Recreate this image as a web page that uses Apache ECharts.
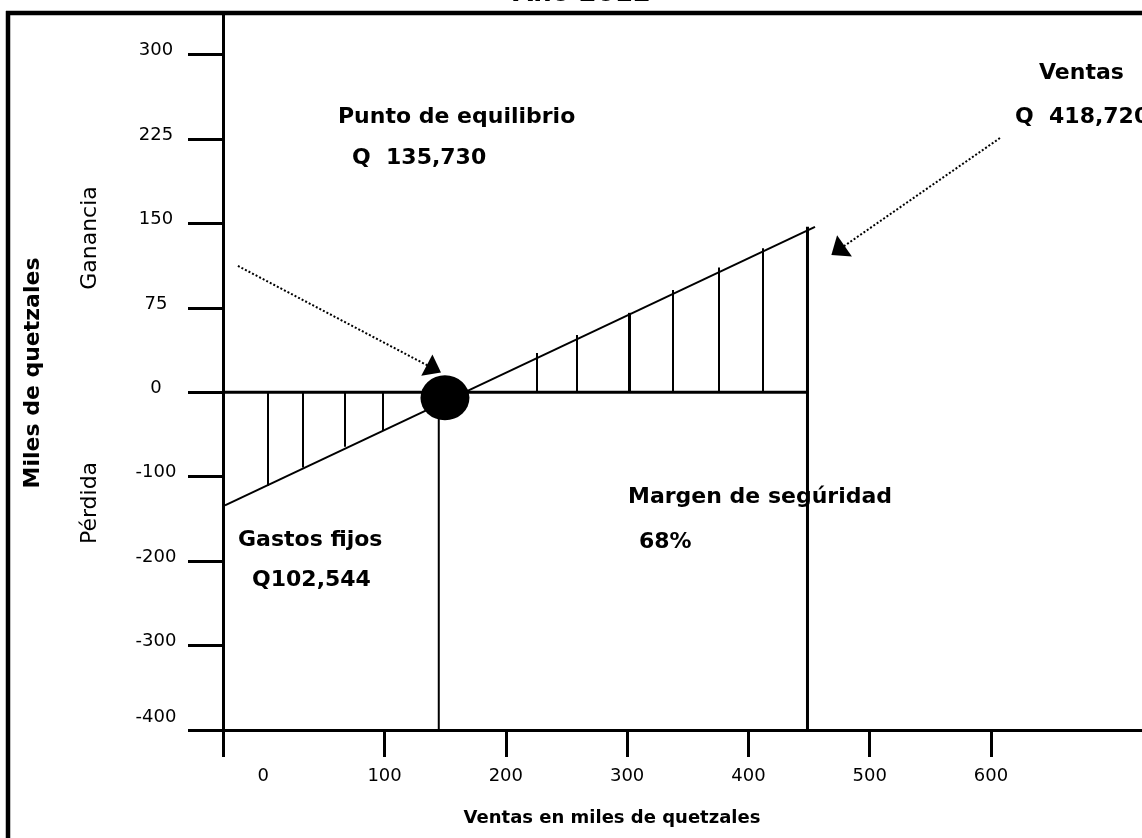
<!DOCTYPE html>
<html>
<head>
<meta charset="utf-8">
<script src="https://cdn.jsdelivr.net/npm/echarts@6/dist/echarts.min.js"></script>
<style>
  html, body { margin: 0; padding: 0; background: #ffffff; }
  #chart { width: 1142px; height: 838px; }
</style>
</head>
<body>
<div id="chart"></div>
<script>
// ---------- data (thousands of quetzales) ----------
const xTickLabels = [0, 100, 200, 300, 400, 500, 600];
const yTickLabels = [-400, -300, -200, -100, 0, 75, 150, 225, 300];
const xRange = [-33.2, 724.5];
const yTopValue = 337;

// result line (sales -> profit/loss)
const resultLineX = [-31.6, 454.9];
const resultLineY = [-134, 147];

// hatching in the loss zone
const lossHatchX = [3.6, 32.5, 67.4, 98.4];
const lossHatchY = [-111, -89, -64.5, -45.6];
// hatching in the profit zone
const profitHatchX = [225.4, 258.6, 301.8, 337.8, 375.7, 412.0];
const profitHatchY = [35, 51, 70.6, 91, 111, 128];
const profitHatchWidth = [2, 2, 3, 2, 2, 2];

// break-even point and sales level
const breakEvenPoint = [149.8, -6.5];
const breakEvenLineX = 144.7;
const salesX = 448.7;
const salesTop = 147;

// annotation arrows: [startX, startY, endX, endY]
const arrowBreakEven = [-20.9, 112.3, 140.7, 20.9];
const arrowSales = [607.4, 225.9, 473.8, 126.1];

// ---------- axis mapping (chart uses 75 per step above 0, 100 per step below) ----------
function toSlot(v) { return v >= 0 ? v / 75 : v / 100; }
const ySlots = yTickLabels.map(toSlot);
function labelForSlot(s) {
  for (let i = 0; i < ySlots.length; i++) {
    if (Math.abs(ySlots[i] - s) < 1e-6) return String(yTickLabels[i]);
  }
  return '';
}
const P = (x, y) => [x, toSlot(y)];

const FONT = 'DejaVu Sans';
const BLACK = '#000000';

const hatchData = [];
lossHatchX.forEach((x, i) => hatchData.push({ coords: [P(x, 0), P(x, lossHatchY[i])], lineStyle: { width: 2 } }));
profitHatchX.forEach((x, i) => hatchData.push({ coords: [P(x, 0), P(x, profitHatchY[i])], lineStyle: { width: profitHatchWidth[i] } }));

function arrowItem(a, size) {
  return [
    { coord: P(a[0], a[1]), symbol: 'none' },
    { coord: P(a[2], a[3]), symbol: 'triangle', symbolSize: size }
  ];
}

const chart = echarts.init(document.getElementById('chart'), null, { renderer: 'canvas' });

const boldText = (text, x, y, size, align) => ({
  type: 'text', x: x, y: y, silent: true, z: 50,
  style: { text: text, fill: BLACK, font: 'bold ' + (size || 22) + 'px "' + FONT + '"',
           textAlign: align || 'left', textVerticalAlign: 'middle' }
});

const option = {
  animation: false,
  backgroundColor: '#ffffff',
  grid: { left: 223, top: 13, right: 0, bottom: 838 - 730, containLabel: false },
  xAxis: {
    type: 'value',
    min: xRange[0], max: xRange[1],
    axisLine: { show: true, onZero: false, lineStyle: { color: BLACK, width: 3 } },
    axisTick: { show: true, inside: false, length: 27, customValues: [xRange[0]].concat(xTickLabels.slice(1)),
                lineStyle: { color: BLACK, width: 3 } },
    axisLabel: { show: true, customValues: xTickLabels, margin: 37,
                 color: BLACK, fontFamily: FONT, fontSize: 18, formatter: v => String(Math.round(v)) },
    splitLine: { show: false }
  },
  yAxis: {
    type: 'value',
    min: toSlot(yTickLabels[0]), max: toSlot(yTopValue),
    axisLine: { show: true, onZero: false, lineStyle: { color: BLACK, width: 3 } },
    axisTick: { show: true, inside: false, length: 35, customValues: ySlots,
                lineStyle: { color: BLACK, width: 3 } },
    axisLabel: {
      show: true, customValues: ySlots, margin: 67, align: 'center',
      formatter: function (v) {
        const l = labelForSlot(v);
        return l === String(yTickLabels[0]) ? '{b|' + l + '}' : '{a|' + l + '}';
      },
      rich: {
        a: { fontFamily: FONT, fontSize: 18, color: BLACK, padding: [0, 0, 8, 0] },
        b: { fontFamily: FONT, fontSize: 18, color: BLACK, padding: [0, 0, 26, 0] }
      }
    },
    splitLine: { show: false }
  },
  graphic: [
    // outer frame (top and left edges)
    { type: 'line', silent: true, z: 40, shape: { x1: 6, y1: 13, x2: 1142, y2: 13 }, style: { stroke: BLACK, lineWidth: 4.5 } },
    { type: 'line', silent: true, z: 40, shape: { x1: 8, y1: 11, x2: 8, y2: 838 }, style: { stroke: BLACK, lineWidth: 4.5 } },
    // cut-off title
    { type: 'text', x: 582, y: 7, silent: true, z: 50,
      style: { text: 'Año 2012', fill: BLACK, font: 'bold 26px "' + FONT + '"', textAlign: 'center', textVerticalAlign: 'bottom' } },
    // axis side labels
    { type: 'text', x: 33, y: 373, rotation: Math.PI / 2, silent: true, z: 50,
      style: { text: 'Miles de quetzales', fill: BLACK, font: 'bold 22px "' + FONT + '"', textAlign: 'center', textVerticalAlign: 'middle' } },
    { type: 'text', x: 90, y: 238, rotation: Math.PI / 2, silent: true, z: 50,
      style: { text: 'Ganancia', fill: BLACK, font: '22px "' + FONT + '"', textAlign: 'center', textVerticalAlign: 'middle' } },
    { type: 'text', x: 90, y: 503, rotation: Math.PI / 2, silent: true, z: 50,
      style: { text: 'Pérdida', fill: BLACK, font: '22px "' + FONT + '"', textAlign: 'center', textVerticalAlign: 'middle' } },
    boldText('Ventas en miles de quetzales', 612, 818, 18, 'center'),
    // annotations
    boldText('Punto de equilibrio', 338, 117),
    boldText('Q  135,730', 352, 158),
    boldText('Ventas', 1039, 73),
    boldText('Q  418,720', 1015, 117),
    boldText('Margen de segúridad', 628, 497),
    boldText('68%', 639, 542),
    boldText('Gastos fijos', 238, 540),
    boldText('Q102,544', 252, 580)
  ],
  series: [
    {
      name: 'hatching', type: 'lines', coordinateSystem: 'cartesian2d', silent: true, z: 3,
      lineStyle: { color: BLACK, width: 2, opacity: 1, curveness: 0 },
      data: hatchData
    },
    {
      name: 'zero', type: 'line', silent: true, symbol: 'none', z: 4,
      lineStyle: { color: BLACK, width: 3 },
      data: [P(xRange[0], 0), P(salesX, 0)]
    },
    {
      name: 'sales level', type: 'line', silent: true, symbol: 'none', z: 4,
      lineStyle: { color: BLACK, width: 3 },
      data: [P(salesX, salesTop), P(salesX, yTickLabels[0])]
    },
    {
      name: 'break-even level', type: 'line', silent: true, symbol: 'none', z: 4,
      lineStyle: { color: BLACK, width: 2 },
      data: [P(breakEvenLineX, breakEvenPoint[1]), P(breakEvenLineX, yTickLabels[0])]
    },
    {
      name: 'result', type: 'line', silent: true, symbol: 'none', z: 5,
      lineStyle: { color: BLACK, width: 2 },
      data: resultLineX.map((x, i) => P(x, resultLineY[i])),
      markLine: {
        silent: true, animation: false,
        symbol: ['none', 'triangle'],
        label: { show: false },
        lineStyle: { color: BLACK, width: 2, type: [2, 2], opacity: 1 },
        itemStyle: { color: BLACK },
        emphasis: { disabled: true },
        data: [arrowItem(arrowBreakEven, [24, 16]), arrowItem(arrowSales, [26, 16])]
      }
    },
    {
      name: 'break-even', type: 'scatter', silent: true, z: 10,
      symbol: 'circle', symbolSize: [49, 45],
      itemStyle: { color: BLACK, opacity: 1 },
      data: [P(breakEvenPoint[0], breakEvenPoint[1])]
    }
  ]
};
chart.setOption(option);
</script>
</body>
</html>
